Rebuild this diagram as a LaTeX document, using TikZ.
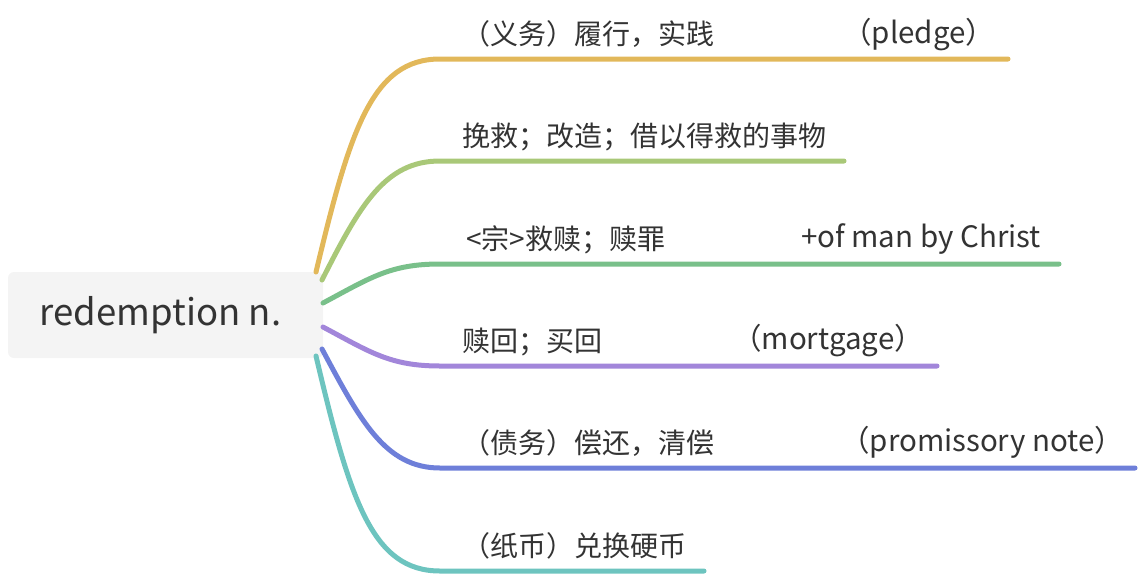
\documentclass[tikz,border=0pt]{standalone}
\usepackage{fontspec}
\setmainfont{Noto Sans CJK SC}
\usepackage{xcolor}
\usetikzlibrary{positioning}

\definecolor{rootfill}{HTML}{F4F4F4}
\definecolor{ink}{HTML}{333333}
\definecolor{cyellow}{HTML}{E2B85A}
\definecolor{clime}{HTML}{A9C878}
\definecolor{cgreen}{HTML}{79C08A}
\definecolor{cpurple}{HTML}{A286DA}
\definecolor{cblue}{HTML}{6E7FD9}
\definecolor{cteal}{HTML}{6DC4BF}

\begin{document}
\begin{tikzpicture}[
  x=1pt, y=-1pt,
  rootbox/.style={fill=rootfill, rounded corners=6pt, minimum width=315pt,
                  minimum height=86pt, inner sep=0pt, text=ink,
                  font=\fontsize{36.5}{42}\selectfont},
  leaf/.style={anchor=base west, inner sep=0pt, text=ink,
               font=\fontsize{28}{32}\selectfont},
  leafen/.style={leaf, font=\fontsize{29.5}{34}\selectfont},
  branch/.style={line width=5pt, line cap=round}
]
  \useasboundingbox (0,0) rectangle (1142,576);

  \node[rootbox] (root) at (165.5,315) {\hspace*{-10pt}redemption n.};

  % branch starts at the root box, line starts and ends
  \coordinate (s1) at (316,272);  \coordinate (a1) at (440,59);  \coordinate (b1) at (1008,59);
  \coordinate (s2) at (322,280);  \coordinate (a2) at (440,161); \coordinate (b2) at (844,161);
  \coordinate (s3) at (323,303);  \coordinate (a3) at (440,264); \coordinate (b3) at (1059,264);
  \coordinate (s4) at (323,327);  \coordinate (a4) at (440,366); \coordinate (b4) at (937,366);
  \coordinate (s5) at (322,349);  \coordinate (a5) at (440,468); \coordinate (b5) at (1135,468);
  \coordinate (s6) at (316,356);  \coordinate (a6) at (440,571); \coordinate (b6) at (704,571);

  \draw[branch, cyellow] (s1) .. controls (350,130) and (372,59) .. (a1) -- (b1);
  \draw[branch, clime]   (s2) .. controls (360,205) and (385,161) .. (a2) -- (b2);
  \draw[branch, cgreen]  (s3) .. controls (370,278) and (390,264) .. (a3) -- (b3);
  \draw[branch, cpurple] (s4) .. controls (370,352) and (390,366) .. (a4) -- (b4);
  \draw[branch, cblue]   (s5) .. controls (360,420) and (385,468) .. (a5) -- (b5);
  \draw[branch, cteal]   (s6) .. controls (350,500) and (372,571) .. (a6) -- (b6);

  \node[leaf]   (t1)  at (462,44)  {（义务）履行，实践};
  \node[leafen] (t1b) at (842,43)  {（pledge）};
  \node[leaf]   (t2)  at (462,146) {挽救；改造；借以得救的事物};
  \node[leaf]   (t3)  at (466,249) {<宗>救赎；赎罪};
  \node[leafen] (t3b) at (801,247) {+of man by Christ};
  \node[leaf]   (t4)  at (462,351) {赎回；买回};
  \node[leafen] (t4b) at (732,349) {（mortgage）};
  \node[leaf]   (t5)  at (462,453) {（债务）偿还，清偿};
  \node[leafen] (t5b) at (840,451) {（promissory note）};
  \node[leaf]   (t6)  at (462,556) {（纸币）兑换硬币};
\end{tikzpicture}
\end{document}
